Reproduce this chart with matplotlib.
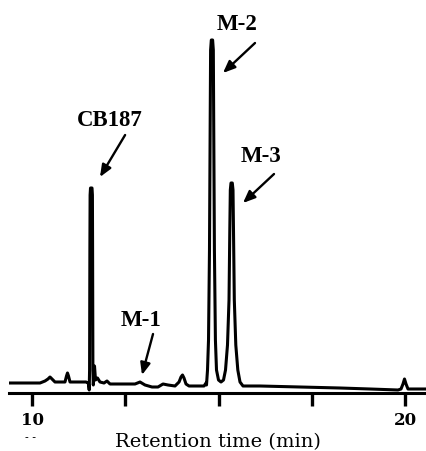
import matplotlib
matplotlib.use("Agg")
import matplotlib.pyplot as plt

# Chromatogram trace: retention time (min) and detector response (a.u.)
retention_time = [9.375, 9.670, 10.207, 10.341, 10.421, 10.475, 10.529, 10.609, 10.877,
                  10.918, 10.944, 10.971, 11.012, 11.441, 11.495,
                  11.508, 11.527, 11.537, 11.545, 11.551, 11.562, 11.602, 11.613, 11.618,
                  11.626, 11.637,
                  11.669, 11.696, 11.749, 11.816, 11.924, 12.004, 12.085,
                  12.487, 12.756, 12.890, 13.024, 13.212, 13.373, 13.507, 13.641,
                  13.829, 13.937, 13.990, 14.030, 14.070, 14.124, 14.205, 14.607, 14.661,
                  14.674, 14.701, 14.728, 14.754, 14.773, 14.784, 14.803, 14.838, 14.857,
                  14.867, 14.886, 14.913, 14.942, 14.996, 15.063, 15.130,
                  15.184, 15.237, 15.278, 15.299, 15.313, 15.331, 15.366, 15.385, 15.398,
                  15.420, 15.460, 15.514, 15.573, 15.653,
                  16.109, 17.182, 18.256, 19.061, 19.812,
                  19.892, 19.946, 19.986, 20.027, 20.080, 20.563]
response = [10, 10, 10, 12, 14, 16, 14, 11, 11,
            17, 20, 17, 11, 11, 10,
            9, 3, 23, 143, 198, 205, 205, 198, 143,
            23, 8,
            27, 13, 15, 11, 10, 12, 9,
            9, 9, 11, 8, 6, 6, 9, 8,
            7, 11, 16, 18, 15, 9, 7, 7, 10,
            8, 23, 53, 143, 273, 343, 353, 353, 343,
            273, 143, 53, 23, 13, 11, 13,
            23, 48, 93, 163, 203, 210, 210, 203, 163,
            93, 48, 23, 11, 7,
            7, 6, 5, 4, 3,
            4, 9, 14, 9, 4, 4]

# Peak labels: (label, text position, arrow tail, arrow head) in (min, response)
peak_labels = ["CB187", "M-1", "M-2", "M-3"]
label_pos = [(12.085, 273), (12.917, 72), (15.492, 369), (16.136, 237)]
arrow_tail = [(12.490, 258), (13.239, 59), (15.975, 350), (16.485, 219)]
arrow_head = [(11.816, 216), (12.943, 18), (15.116, 320), (15.653, 190)]

tick_values = [10, 12.5, 15, 17.5, 20]
tick_labels = ["10", "", "", "", "20"]
x_label = "Retention time (min)"

fig = plt.figure(figsize=(4.26, 4.51), dpi=100)
ax = fig.add_axes([9 / 426, 58 / 451, 417 / 426, 393 / 451])

ax.plot(retention_time, response, color="black", lw=2.2, solid_joinstyle="round")

for lab, tp, tl, hd in zip(peak_labels, label_pos, arrow_tail, arrow_head):
    ax.text(tp[0], tp[1], lab, ha="center", va="center", fontsize=16.5,
            fontweight="bold", family="Liberation Serif")
    ax.annotate("", xy=hd, xytext=tl,
                arrowprops=dict(arrowstyle="-|>,head_length=0.6,head_width=0.25",
                                color="black", lw=1.7, mutation_scale=12,
                                shrinkA=0, shrinkB=0))

ax.set_xlim(9.375, 20.563)
ax.set_ylim(0, 393)
for s in ["top", "right", "left"]:
    ax.spines[s].set_visible(False)
ax.spines["bottom"].set_linewidth(2.2)
ax.set_yticks([])
ax.set_xticks(tick_values)
ax.set_xticklabels(tick_labels, fontsize=12, fontweight="bold", family="DejaVu Serif")
ax.tick_params(axis="x", direction="out", length=9.5, width=2.4, pad=4)
ax.set_xlabel(x_label, fontsize=14, family="DejaVu Serif")
ax.xaxis.set_label_coords(0.5, -0.103)
fig.text(31 / 426, 1 - 438 / 451, "- -", ha="center", va="center", fontsize=8,
         family="DejaVu Serif")

fig.savefig("out.png", dpi=100)
